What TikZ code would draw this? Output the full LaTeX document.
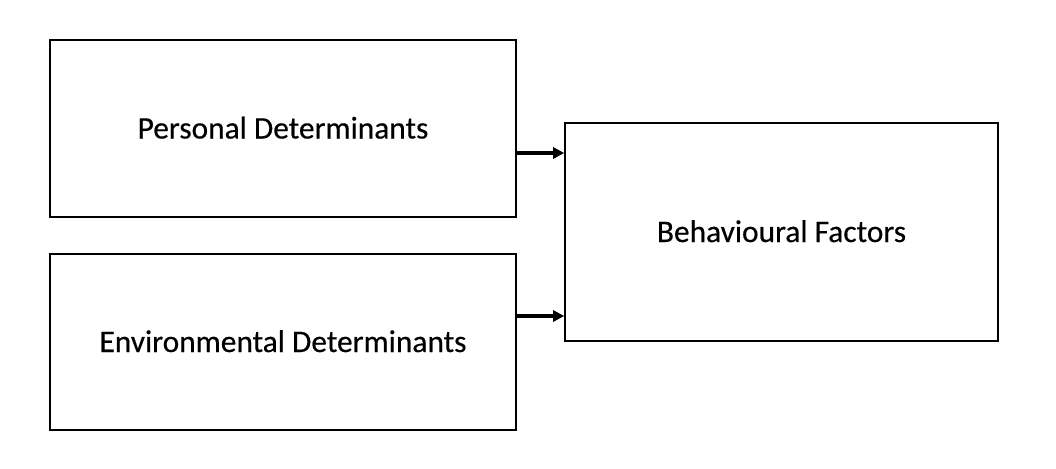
\documentclass[tikz,border=0pt]{standalone}
\usepackage{fontspec}
\setmainfont{Carlito}
\newfontface\heavy{Carlito}[FakeBold=0.4]
\usetikzlibrary{arrows.meta}
\begin{document}
\begin{tikzpicture}[x=1pt,y=-1pt,
  box/.style={draw=black,line width=1.6pt,minimum width=#1,inner sep=0pt,text height=20pt,text depth=0pt,font=\heavy\fontsize{31.4}{36}\selectfont},
  conn/.style={line width=3.2pt,-{Triangle[length=11pt,width=11pt]}}]
\useasboundingbox (0,0) rectangle (1056,468);
\fill[white] (0,0) rectangle (1056,468);
\node[box=466pt,minimum height=177pt] (pd) at (283,128.5) {Personal Determinants};
\node[box=466pt,minimum height=176pt] (ed) at (283,342) {Environmental Determinants};
\node[box=433pt,minimum height=218pt] (bf) at (781.5,232) {Behavioural Factors};
\draw[conn] (pd.east |- 0,153) -- (bf.west |- 0,153);
\draw[conn] (ed.east |- 0,316) -- (bf.west |- 0,316);
\end{tikzpicture}
\end{document}
